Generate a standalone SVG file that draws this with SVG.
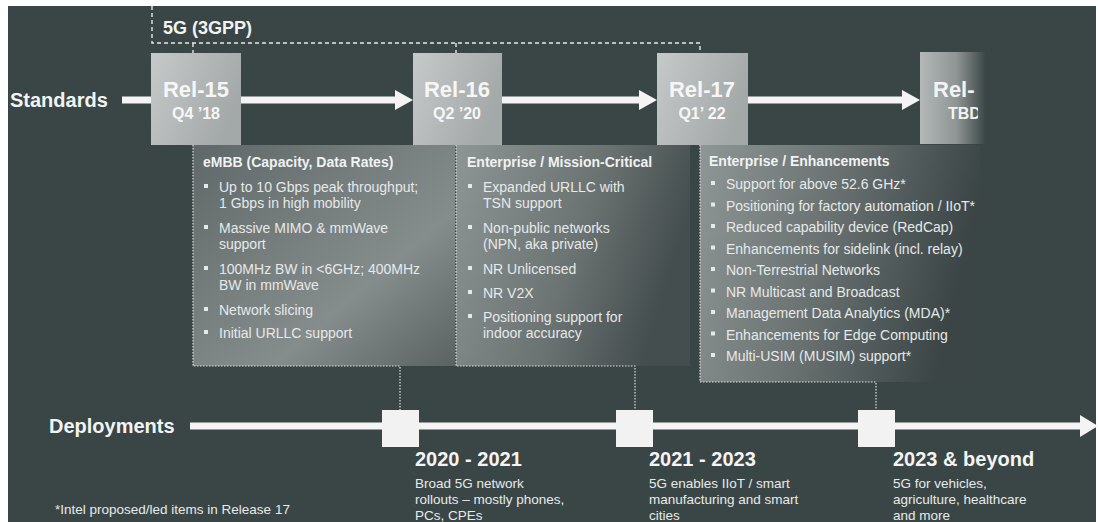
<svg xmlns="http://www.w3.org/2000/svg" width="1098" height="522" viewBox="0 0 1098 522">
<style>
.lbl{font-family:"Liberation Sans",Arial,sans-serif;font-weight:bold;fill:#f2f4f4}
.rel{font-family:"Liberation Sans",Arial,sans-serif;font-weight:bold;fill:#f6f6f6;text-anchor:middle}
.ttl{font-family:"Liberation Sans",Arial,sans-serif;font-weight:bold;font-size:14px;fill:#f0f2f2}
.body{font-family:"Liberation Sans",Arial,sans-serif;font-size:14px;fill:#e6e9e9}
.dep{font-family:"Liberation Sans",Arial,sans-serif;font-size:13.5px;fill:#e8eaea}
.yr{font-family:"Liberation Sans",Arial,sans-serif;font-weight:bold;font-size:20px;fill:#f4f4f4}
.bul{fill:#e6e9e9}
.thick{stroke:#f4f4f4;stroke-width:7;fill:none}
.dash{stroke:#e8e8e8;stroke-width:1.4;fill:none;stroke-dasharray:4 3}
.dot{stroke:#dfe2e2;stroke-width:1.2;fill:none;stroke-dasharray:1.5 1.5}
.sq{fill:#f2f2f2}
</style>
<defs>
<marker id="ah" markerUnits="userSpaceOnUse" markerWidth="18" markerHeight="20" refX="0" refY="10" orient="auto" overflow="visible">
<path d="M0,0 L18,10 L0,20 z" fill="#f4f4f4"/>
</marker>
<marker id="ah2" markerUnits="userSpaceOnUse" markerWidth="18" markerHeight="22" refX="0" refY="11" orient="auto" overflow="visible">
<path d="M0,0 L18,11 L0,22 z" fill="#f4f4f4"/>
</marker>
<linearGradient id="boxg" x1="0" y1="0" x2="1" y2="0.4">
<stop offset="0" stop-color="#c6c9c9"/>
<stop offset="1" stop-color="#a3a8a8"/>
</linearGradient>
<linearGradient id="tbdg" x1="0" y1="0" x2="1" y2="0">
<stop offset="0" stop-color="#b3b7b7"/>
<stop offset="0.55" stop-color="#8f9595"/>
<stop offset="1" stop-color="#3b4545"/>
</linearGradient>
<linearGradient id="p1g" x1="0" y1="0" x2="1" y2="1">
<stop offset="0" stop-color="#5f6868"/>
<stop offset="0.65" stop-color="#858c8c"/>
<stop offset="1" stop-color="#5a6262"/>
</linearGradient>
<linearGradient id="p2g" x1="0" y1="0" x2="1" y2="0.3">
<stop offset="0" stop-color="#8e9595"/>
<stop offset="0.6" stop-color="#6a7272"/>
<stop offset="1" stop-color="#454e4e"/>
</linearGradient>
<linearGradient id="p3g" x1="0" y1="0" x2="1" y2="0.2">
<stop offset="0" stop-color="#8f9696"/>
<stop offset="0.5" stop-color="#697171"/>
<stop offset="1" stop-color="#3b4545"/>
</linearGradient>
<clipPath id="tbdclip"><rect x="920" y="53" width="58" height="92"/></clipPath>
</defs>

<rect x="0" y="0" width="1098" height="522" fill="#ffffff"/>
<rect x="8" y="6" width="1088" height="516" fill="#3a4545"/>

<g id="panel-rel15">
<rect x="193" y="145" width="262" height="221" fill="url(#p1g)"/>
<text class="ttl" x="203" y="167">eMBB (Capacity, Data Rates)</text>
<rect class="bul" x="204" y="184" width="4" height="4"/>
<rect class="bul" x="204" y="225" width="4" height="4"/>
<rect class="bul" x="204" y="266" width="4" height="4"/>
<rect class="bul" x="204" y="307" width="4" height="4"/>
<rect class="bul" x="204" y="330" width="4" height="4"/>
<text class="body" x="219" y="192">Up to 10 Gbps peak throughput;</text>
<text class="body" x="219" y="208">1 Gbps in high mobility</text>
<text class="body" x="219" y="233">Massive MIMO &amp; mmWave</text>
<text class="body" x="219" y="249">support</text>
<text class="body" x="219" y="274">100MHz BW in &lt;6GHz; 400MHz</text>
<text class="body" x="219" y="290">BW in mmWave</text>
<text class="body" x="219" y="315">Network slicing</text>
<text class="body" x="219" y="338">Initial URLLC support</text>
</g>

<g id="panel-rel16">
<rect x="456" y="145" width="234" height="221" fill="url(#p2g)"/>
<text class="ttl" x="467" y="167">Enterprise / Mission-Critical</text>
<rect class="bul" x="468" y="184" width="4" height="4"/>
<rect class="bul" x="468" y="225" width="4" height="4"/>
<rect class="bul" x="468" y="266" width="4" height="4"/>
<rect class="bul" x="468" y="290" width="4" height="4"/>
<rect class="bul" x="468" y="314" width="4" height="4"/>
<text class="body" x="483" y="192">Expanded URLLC with</text>
<text class="body" x="483" y="208">TSN support</text>
<text class="body" x="483" y="233">Non-public networks</text>
<text class="body" x="483" y="249">(NPN, aka private)</text>
<text class="body" x="483" y="274">NR Unlicensed</text>
<text class="body" x="483" y="298">NR V2X</text>
<text class="body" x="483" y="322">Positioning support for</text>
<text class="body" x="483" y="338">indoor accuracy</text>
</g>

<g id="panel-rel17">
<rect x="700" y="145" width="280" height="237" fill="url(#p3g)"/>
<text class="ttl" x="709" y="166">Enterprise / Enhancements</text>
<rect class="bul" x="711" y="181" width="4" height="4"/>
<rect class="bul" x="711" y="202.5" width="4" height="4"/>
<rect class="bul" x="711" y="224" width="4" height="4"/>
<rect class="bul" x="711" y="245.5" width="4" height="4"/>
<rect class="bul" x="711" y="267" width="4" height="4"/>
<rect class="bul" x="711" y="288.5" width="4" height="4"/>
<rect class="bul" x="711" y="310" width="4" height="4"/>
<rect class="bul" x="711" y="331.5" width="4" height="4"/>
<rect class="bul" x="711" y="353" width="4" height="4"/>
<text class="body" x="726" y="189">Support for above 52.6 GHz*</text>
<text class="body" x="726" y="210.5">Positioning for factory automation / IIoT*</text>
<text class="body" x="726" y="232">Reduced capability device (RedCap)</text>
<text class="body" x="726" y="253.5">Enhancements for sidelink (incl. relay)</text>
<text class="body" x="726" y="275">Non-Terrestrial Networks</text>
<text class="body" x="726" y="296.5">NR Multicast and Broadcast</text>
<text class="body" x="726" y="318">Management Data Analytics (MDA)*</text>
<text class="body" x="726" y="339.5">Enhancements for Edge Computing</text>
<text class="body" x="726" y="361">Multi-USIM (MUSIM) support*</text>
</g>

<g id="connectors">
<path class="dash" d="M152,6 V43 H700 V53 M193,43 V53 M456,43 V53"/>
<path class="dot" d="M193,145 V366 H400 V411"/>
<path class="dot" d="M456,145 V366 H635 V411"/>
<path class="dot" d="M700,145 V382 H876 V411"/>
<line class="thick" x1="122" y1="100" x2="151" y2="100"/>
<line class="thick" x1="241" y1="100" x2="395" y2="100" marker-end="url(#ah)"/>
<line class="thick" x1="502" y1="100" x2="639" y2="100" marker-end="url(#ah)"/>
<line class="thick" x1="748" y1="100" x2="902" y2="100" marker-end="url(#ah)"/>
<line class="thick" x1="190" y1="426" x2="1080" y2="426" marker-end="url(#ah2)"/>
</g>

<g id="label-5g">
<text class="lbl" x="163" y="34" font-size="18">5G (3GPP)</text>
</g>
<g id="label-standards">
<text class="lbl" x="10" y="107" font-size="20">Standards</text>
</g>
<g id="label-deployments">
<text class="lbl" x="49" y="433" font-size="20">Deployments</text>
</g>

<g id="rel15">
<rect x="151" y="53" width="90" height="92" fill="url(#boxg)"/>
<text class="rel" x="196" y="97" font-size="22">Rel-15</text>
<text class="rel" x="196" y="119" font-size="16">Q4 ’18</text>
</g>
<g id="rel16">
<rect x="413" y="53" width="89" height="92" fill="url(#boxg)"/>
<text class="rel" x="457" y="97" font-size="22">Rel-16</text>
<text class="rel" x="457" y="119" font-size="16">Q2 ’20</text>
</g>
<g id="rel17">
<rect x="657" y="53" width="91" height="92" fill="url(#boxg)"/>
<text class="rel" x="702" y="97" font-size="22">Rel-17</text>
<text class="rel" x="702" y="119" font-size="16">Q1’ 22</text>
</g>
<g id="rel-tbd">
<rect x="920" y="52" width="66" height="92" fill="url(#tbdg)"/>
<g clip-path="url(#tbdclip)">
<text class="lbl" x="933" y="97" font-size="22">Rel-</text>
<text class="lbl" x="948" y="119" font-size="16">TBD</text>
</g>
</g>

<g id="dep-2020">
<rect class="sq" x="382" y="410" width="37" height="37"/>
<text class="yr" x="415" y="466">2020 - 2021</text>
<text class="dep" x="415" y="488">Broad 5G network</text>
<text class="dep" x="415" y="504">rollouts – mostly phones,</text>
<text class="dep" x="415" y="520">PCs, CPEs</text>
</g>
<g id="dep-2021">
<rect class="sq" x="616" y="410" width="37" height="37"/>
<text class="yr" x="649" y="466">2021 - 2023</text>
<text class="dep" x="649" y="488">5G enables IIoT / smart</text>
<text class="dep" x="649" y="504">manufacturing and smart</text>
<text class="dep" x="649" y="520">cities</text>
</g>
<g id="dep-2023">
<rect class="sq" x="858" y="410" width="37" height="37"/>
<text class="yr" x="893" y="466">2023 &amp; beyond</text>
<text class="dep" x="893" y="488">5G for vehicles,</text>
<text class="dep" x="893" y="504">agriculture, healthcare</text>
<text class="dep" x="893" y="520">and more</text>
</g>

<g id="footnote">
<text class="dep" x="55" y="514" font-size="11.8">*Intel proposed/led items in Release 17</text>
</g>
</svg>
